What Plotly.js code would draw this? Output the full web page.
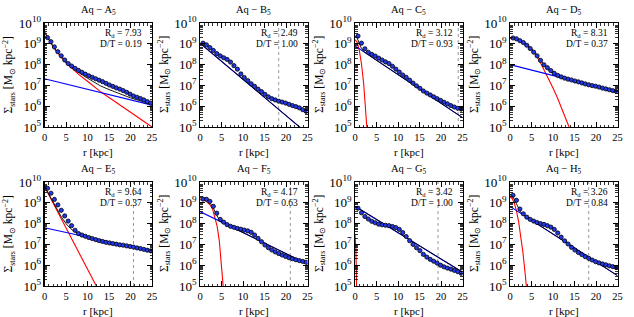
<!DOCTYPE html>
<html><head><meta charset="utf-8">
<script src="https://cdn.plot.ly/plotly-3.0.1.min.js"></script>
<style>html,body{margin:0;padding:0;background:#fff}#c{width:634px;height:317px}</style>
</head><body><div id="c"></div>
<script>
// ---- data (log10 of surface density) ----
const panelNames = ['A','B','C','D','E','F','G','H'];
const rdValues = ['7.93','2.49','3.12','8.31','9.64','4.17','3.42','3.26'];
const dtValues = ['0.19','1.00','0.93','0.37','0.37','0.63','1.00','0.84'];
const dottedR = [null, 18.3, 24.0, null, 20.7, 21.0, 19.3, 18.3];

const rDots = [0.7,1.5,2.3,3.1,3.9,4.7,5.5,6.3,7.1,7.9,8.7,9.5,10.3,11.1,11.9,12.7,13.5,14.3,15.1,15.9,16.7,17.5,18.3,19.1,19.9,20.7,21.5,22.3,23.1,23.9,24.7];
const dotsA = [9.30,9.10,8.85,8.62,8.42,8.22,8.05,7.93,7.82,7.72,7.63,7.54,7.46,7.39,7.32,7.25,7.18,7.10,7.02,6.95,6.88,6.82,6.75,6.67,6.58,6.49,6.43,6.37,6.30,6.22,6.15];
const dotsB = [9.03,8.95,8.82,8.68,8.53,8.42,8.33,8.25,8.12,7.95,7.78,7.55,7.38,7.23,7.08,6.95,6.82,6.70,6.57,6.45,6.36,6.30,6.24,6.20,6.15,6.09,6.03,5.98,5.92,5.83,5.75];
const dotsC = [9.37,9.03,8.76,8.59,8.49,8.41,8.31,8.22,8.13,8.05,7.92,7.78,7.64,7.50,7.39,7.25,7.11,6.98,6.86,6.73,6.63,6.54,6.45,6.36,6.28,6.19,6.11,6.03,5.96,5.90,5.86];
const dotsD = [9.28,9.24,9.15,9.06,8.93,8.77,8.60,8.42,8.20,7.99,7.85,7.71,7.58,7.48,7.41,7.35,7.30,7.26,7.21,7.17,7.12,7.07,7.03,6.99,6.96,6.92,6.87,6.83,6.79,6.75,6.71];
const dotsE = [9.70,9.46,9.16,8.90,8.64,8.37,8.12,7.90,7.68,7.52,7.45,7.39,7.33,7.28,7.23,7.18,7.14,7.10,7.07,7.04,7.01,6.98,6.96,6.93,6.90,6.87,6.83,6.80,6.76,6.72,6.69];
const dotsF = [9.18,9.17,9.07,8.83,8.50,8.20,8.07,7.95,7.87,7.82,7.77,7.73,7.69,7.65,7.58,7.45,7.29,7.13,6.97,6.84,6.73,6.64,6.56,6.49,6.42,6.36,6.31,6.26,6.22,6.18,6.14];
const dotsG = [8.74,8.52,8.34,8.22,8.11,8.04,7.97,7.94,7.92,7.90,7.86,7.81,7.72,7.57,7.38,7.18,7.00,6.84,6.70,6.52,6.39,6.28,6.19,6.10,6.00,5.92,5.86,5.81,5.75,5.69,5.61];
const dotsH = [9.36,9.12,8.70,8.47,8.31,8.20,8.12,8.05,8.00,7.96,7.90,7.83,7.72,7.55,7.35,7.17,7.02,6.86,6.73,6.61,6.51,6.41,6.33,6.25,6.17,6.11,6.06,6.02,5.97,5.93,5.89];

// bulge (red) components
const redRA = [0,1,2,3,4,5,6,8,10,13,15,20,25];
const redA  = [9.56,9.20,8.86,8.58,8.33,8.10,7.90,7.52,7.20,6.70,6.42,5.72,5.00];
const redRB = [];
const redB  = [];
const redRC = [0,0.5,1,1.5,2,2.5,3,3.5];
const redC  = [9.20,9.07,8.68,8.04,7.13,5.97,4.55,2.87];
const redRD = [0,1,2,3,4,5,6,7,8,9,10,11,12,13,14,15];
const redD  = [9.27,9.25,9.18,9.07,8.92,8.72,8.47,8.12,7.72,7.28,6.88,6.42,5.92,5.42,4.90,4.35];
const redRE = [0,6,12.5];
const redE  = [9.78,7.40,4.82];
const redRF = [0,0.5,1,1.5,2,2.5,3,3.5,4,4.5,5,5.5,6];
const redF  = [9.15,9.15,9.12,9.07,8.98,8.86,8.65,8.30,7.85,7.15,6.20,4.90,3.50];
const redRG = [0,0.1,0.2,0.3,0.4];
const redG  = [7.50,7.30,6.80,5.80,4.50];
const redRH = [0,0.5,1,1.5,2,2.5,3,3.5,4];
const redH  = [9.28,9.21,8.98,8.61,8.10,7.43,6.62,5.65,4.54];

// disc (blue) components, values at r = 0 and r = 25
const rBlue = [0,25];
const blueA = [7.32,6.05];
const blueB = [9.03,4.68];
const blueC = [8.90,5.45];
const blueD = [8.00,6.69];
const blueE = [7.80,6.67];
const blueF = [8.58,6.05];
const blueG = [8.83,5.66];
const blueH = [8.83,5.50];

// total fit (black)
const totRA = [0,1,2,3,4,5,6,8,10,13,15,20,25];
const totA  = [9.563,9.205,8.870,8.596,8.357,8.138,7.954,7.616,7.348,6.980,6.800,6.400,6.087];
const totRB = [0,25];
const totB  = [9.03,4.68];
const totRC = [0,0.5,1,1.5,2,2.5,3,4,25];
const totC  = [9.376,9.270,9.020,8.780,8.634,8.557,8.486,8.348,5.45];
const totRD = [0,1,2,3,4,5,6,7,8,9,10,11,12,14,25];
const totD  = [9.292,9.271,9.202,9.095,8.951,8.762,8.535,8.242,7.958,7.723,7.574,7.465,7.386,7.269,6.69];
const totRE = [0,1,2,3,4,5,6,7,8,9,10,12,25];
const totE  = [9.784,9.393,9.008,8.639,8.294,7.999,7.770,7.607,7.497,7.420,7.360,7.260,6.67];
const totRF = [0,1,2,3,3.5,4,4.5,5,6,25];
const totF  = [9.253,9.211,9.077,8.802,8.564,8.343,8.168,8.080,7.973,6.05];
const totRG = [0,25];
const totG  = [8.84,5.67];
const totRH = [0,0.5,1,1.5,2,2.5,3,4,25];
const totH  = [9.412,9.343,9.162,8.930,8.692,8.532,8.437,8.297,5.50];

const xTicks = [0,5,10,15,20,25];

// ---- build ----
const dots = [dotsA,dotsB,dotsC,dotsD,dotsE,dotsF,dotsG,dotsH];
const redR = [redRA,redRB,redRC,redRD,redRE,redRF,redRG,redRH];
const red = [redA,redB,redC,redD,redE,redF,redG,redH];
const blue = [blueA,blueB,blueC,blueD,blueE,blueF,blueG,blueH];
const totR = [totRA,totRB,totRC,totRD,totRE,totRF,totRG,totRH];
const tot = [totA,totB,totC,totD,totE,totF,totG,totH];
const lin = a => a.map(v => Math.pow(10, v));

const W = 634, H = 317;
const colLeft = [44.5, 200, 355, 510];
const pw = 107.5;
const rowTop = [23, 182];
const ph = 104;
const FONT = 'Liberation Serif, Times New Roman, serif';

const traces = [];
const layout = {
  width: W, height: H, margin: {l:0,r:0,t:0,b:0},
  paper_bgcolor: '#fff', plot_bgcolor: '#fff', showlegend: false,
  font: {family: FONT, color: '#000', size: 11},
  annotations: [], shapes: []
};

for (let i = 0; i < 8; i++) {
  const col = i % 4, row = Math.floor(i / 4);
  const sfx = i === 0 ? '' : String(i + 1);
  const xa = 'x' + sfx, ya = 'y' + sfx;
  const x0 = colLeft[col] / W, x1 = (colLeft[col] + pw) / W;
  const yTop = 1 - rowTop[row] / H, yBot = 1 - (rowTop[row] + ph) / H;

  if (red[i].length) traces.push({x: redR[i], y: lin(red[i]), xaxis: xa, yaxis: ya, mode: 'lines', line: {color: '#ff0000', width: 1.1}, hoverinfo: 'skip'});
  traces.push({x: rBlue, y: lin(blue[i]), xaxis: xa, yaxis: ya, mode: 'lines', line: {color: '#0000ff', width: 1.1}, hoverinfo: 'skip'});
  traces.push({x: totR[i], y: lin(tot[i]), xaxis: xa, yaxis: ya, mode: 'lines', line: {color: '#000', width: 0.9}, hoverinfo: 'skip'});
  traces.push({x: rDots, y: lin(dots[i]), xaxis: xa, yaxis: ya, mode: 'markers',
    marker: {size: 4.2, color: 'rgb(35,55,235)', line: {color: '#000', width: 0.8}}, hoverinfo: 'skip'});

  const common = {showline: true, linecolor: '#000', linewidth: 1.3, mirror: 'ticks', ticks: 'inside',
    tickcolor: '#000', ticklen: 5, tickwidth: 1, showgrid: false, zeroline: false, fixedrange: true,
    tickfont: {family: FONT, size: 10.5, color: '#000'}, automargin: false};
  layout['xaxis' + sfx] = Object.assign({}, common, {domain: [x0, x1], anchor: ya, range: [0, 25],
    tickmode: 'array', tickvals: xTicks, ticktext: xTicks.map(String),
    minor: {ticks: 'inside', dtick: 1, ticklen: 2.5, tickcolor: '#000', tickwidth: 0.8}});
  layout['yaxis' + sfx] = Object.assign({}, common, {domain: [yBot, yTop], anchor: xa, type: 'log', range: [5, 10],
    dtick: 1, exponentformat: 'power', showexponent: 'all',
    minor: {ticks: 'inside', dtick: 'D1', ticklen: 2.5, tickcolor: '#000', tickwidth: 0.8}});

  const xc = (x0 + x1) / 2;
  layout.annotations.push({xref: 'paper', yref: 'paper', x: xc, y: 1 - (rowTop[row] - 13) / H, xanchor: 'center', yanchor: 'middle',
    text: 'Aq \u2212 ' + panelNames[i] + '<sub>5</sub>', showarrow: false, font: {family: FONT, size: 10.5}});
  layout.annotations.push({xref: 'paper', yref: 'paper', x: xc, y: 1 - (rowTop[row] + ph + 25) / H, xanchor: 'center', yanchor: 'middle',
    text: 'r [kpc]', showarrow: false, font: {family: FONT, size: 11}});
  layout.annotations.push({xref: 'paper', yref: 'paper', x: (colLeft[col] - 36) / W, y: (yTop + yBot) / 2, xanchor: 'center', yanchor: 'middle',
    textangle: -90, text: '\u03A3<sub>stars</sub> [M<sub>\u2299</sub> kpc<sup>\u22122</sup>]', showarrow: false, font: {family: FONT, size: 11.5}});
  layout.annotations.push({xref: 'paper', yref: 'paper', x: (colLeft[col] + pw - 8) / W, y: 1 - (rowTop[row] + 10) / H, xanchor: 'right', yanchor: 'middle',
    text: 'R<sub>d</sub> = ' + rdValues[i], showarrow: false, font: {family: FONT, size: 9.5}});
  layout.annotations.push({xref: 'paper', yref: 'paper', x: (colLeft[col] + pw - 8) / W, y: 1 - (rowTop[row] + 21) / H, xanchor: 'right', yanchor: 'middle',
    text: 'D/T = ' + dtValues[i], showarrow: false, font: {family: FONT, size: 9.5}});
  if (dottedR[i] !== null) {
    layout.shapes.push({type: 'line', xref: xa, yref: ya + ' domain', x0: dottedR[i], x1: dottedR[i], y0: 0, y1: 1,
      line: {color: '#999', width: 1, dash: 'dot'}, layer: 'below'});
  }
}

Plotly.newPlot('c', traces, layout, {staticPlot: true, displayModeBar: false});
</script></body></html>
